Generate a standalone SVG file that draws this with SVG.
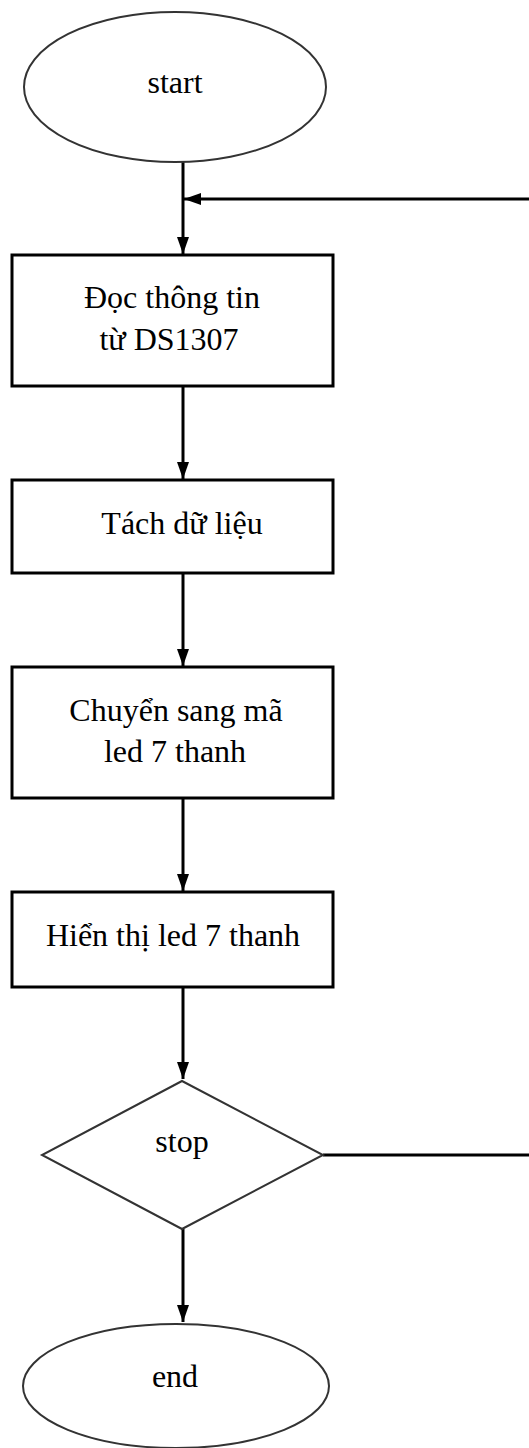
<svg xmlns="http://www.w3.org/2000/svg" width="529" height="1448" viewBox="0 0 529 1448">
<style>
.t{font-family:"Liberation Serif","Times New Roman",serif;font-size:32px;fill:#000;text-anchor:middle}
.box{fill:#fff;stroke:#000;stroke-width:3}
.soft{fill:#fff;stroke:#333;stroke-width:2}
.ln{stroke:#000;stroke-width:3;fill:none}
</style>
<defs>
<marker id="ah" markerWidth="17" markerHeight="12" refX="17" refY="6" viewBox="0 0 17 12" markerUnits="userSpaceOnUse" orient="auto">
<path d="M0,0 L17,6 L0,12 Z" fill="#000"/>
</marker>
</defs>
<rect width="529" height="1448" fill="#fff"/>
<g id="connectors">
<line class="ln" x1="183" y1="162" x2="183" y2="254" marker-end="url(#ah)"/>
<line class="ln" x1="529" y1="199" x2="184" y2="199" marker-end="url(#ah)"/>
<line class="ln" x1="183" y1="386" x2="183" y2="479" marker-end="url(#ah)"/>
<line class="ln" x1="183" y1="573" x2="183" y2="666" marker-end="url(#ah)"/>
<line class="ln" x1="183" y1="798" x2="183" y2="891" marker-end="url(#ah)"/>
<line class="ln" x1="183" y1="987" x2="183" y2="1079" marker-end="url(#ah)"/>
<line class="ln" x1="183" y1="1229" x2="183" y2="1322" marker-end="url(#ah)"/>
<line class="ln" x1="323" y1="1155" x2="529" y2="1155"/>
</g>
<g id="start">
<ellipse class="soft" cx="175" cy="87" rx="151" ry="75"/>
<text class="t" x="175" y="93">start</text>
</g>
<g id="read">
<rect class="box" x="12" y="255" width="321" height="131"/>
<text class="t" x="172" y="308">Đọc thông tin</text>
<text class="t" x="169" y="350">từ DS1307</text>
</g>
<g id="split">
<rect class="box" x="12" y="480" width="321" height="93"/>
<text class="t" x="182" y="534">Tách dữ liệu</text>
</g>
<g id="convert">
<rect class="box" x="12" y="667" width="321" height="131"/>
<text class="t" x="176" y="721">Chuyển sang mã</text>
<text class="t" x="175" y="762">led 7 thanh</text>
</g>
<g id="display">
<rect class="box" x="12" y="892" width="321" height="95"/>
<text class="t" x="173" y="946">Hiển thị led 7 thanh</text>
</g>
<g id="stop">
<polygon class="soft" points="182,1081 323,1155 182,1229 42,1155"/>
<text class="t" x="182" y="1152">stop</text>
</g>
<g id="end">
<ellipse class="soft" cx="176" cy="1386" rx="153" ry="62"/>
<text class="t" x="175" y="1387">end</text>
</g>
</svg>
